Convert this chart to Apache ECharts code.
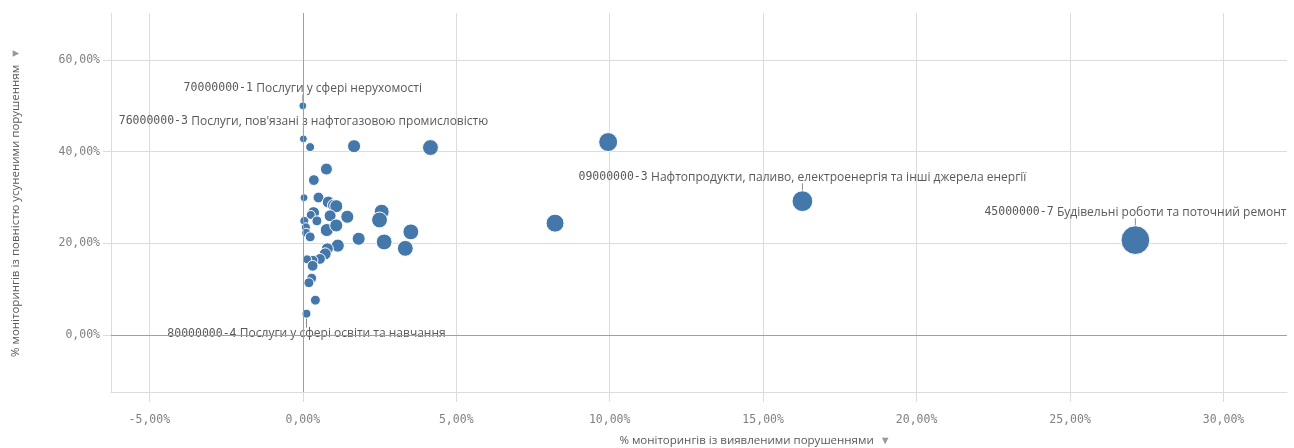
<!DOCTYPE html>
<html>
<head>
<meta charset="utf-8">
<script src="https://cdn.jsdelivr.net/npm/echarts@6/dist/echarts.min.js"></script>
<style>
html,body{margin:0;padding:0;background:#fff;}
#chart{width:1294px;height:448px;}
</style>
</head>
<body>
<div id="chart"></div>
<script>
// share of monitorings with detected violations (x), fully eliminated violations (y)
const xDetected = [0.0000, 0.0002, 0.0024, 0.0167, 0.0416, 0.0077, 0.0036, 0.0004, 0.0051, 0.0083,
  0.0100, 0.0109, 0.0035, 0.0026, 0.0046, 0.0089, 0.0145, 0.0257, 0.0250, 0.0005,
  0.0010, 0.0011, 0.0024, 0.0078, 0.0109, 0.0182, 0.0265, 0.0352, 0.0334, 0.0114,
  0.0080, 0.0073, 0.0056, 0.0033, 0.0014, 0.0032, 0.0029, 0.0020, 0.0041, 0.0012,
  0.0995, 0.0822, 0.1628, 0.2713];
const yEliminated = [0.500, 0.428, 0.410, 0.412, 0.409, 0.362, 0.338, 0.2996, 0.300, 0.290,
  0.283, 0.281, 0.267, 0.262, 0.249, 0.260, 0.258, 0.269, 0.251, 0.249,
  0.235, 0.223, 0.214, 0.229, 0.239, 0.210, 0.203, 0.225, 0.189, 0.195,
  0.188, 0.177, 0.166, 0.163, 0.165, 0.151, 0.124, 0.114, 0.076, 0.0465,
  0.421, 0.244, 0.292, 0.207];
// bubble size measure (number of monitorings, estimated)
const monitorings = [7, 7, 9, 19, 28, 16, 13, 7, 13, 16,
  16, 19, 16, 9, 11, 16, 19, 25, 28, 9,
  9, 9, 11, 19, 19, 19, 28, 28, 28, 19,
  16, 16, 13, 11, 9, 13, 11, 11, 11, 9,
  40, 36, 48, 92];
// labelled categories (index -> name)
const labelIndex = [0, 1, 39, 42, 43];
const labelCodes = ['70000000-1', '76000000-3', '80000000-4', '09000000-3', '45000000-7'];
const labelNames = ['Послуги у сфері нерухомості', "Послуги, пов'язані з нафтогазовою промисловістю",
  'Послуги у сфері освіти та навчання', 'Нафтопродукти, паливо, електроенергія та інші джерела енергії',
  'Будівельні роботи та поточний ремонт'];
const labelBelow = ['80000000-4'];
const xTicks = [-0.05, 0, 0.05, 0.10, 0.15, 0.20, 0.25, 0.30];
const yTicks = [0, 0.20, 0.40, 0.60];
const xTitle = '% моніторингів із виявленими порушеннями';
const yTitle = '% моніторингів із повністю усуненими порушенням';

const fmt = v => (v * 100).toFixed(2).replace('.', ',') + '%';
const MONO = '"DejaVu Sans Mono", monospace';
const SANS = '"Open Sans", sans-serif';

const isBelow = i => {
  const k = labelIndex.indexOf(i);
  return k >= 0 && labelBelow.indexOf(labelCodes[k]) >= 0;
};

const data = xDetected.map((x, i) => {
  const item = { value: [x, yEliminated[i], monitorings[i]] };
  const k = labelIndex.indexOf(i);
  if (k >= 0) {
    item.label = {
      show: true,
      position: isBelow(i) ? 'bottom' : 'top',
      distance: 3,
      formatter: '{c|' + labelCodes[k] + '} {t|' + labelNames[k] + '}'
    };
  }
  return item;
});

const chart = echarts.init(document.getElementById('chart'), null, { renderer: 'canvas' });
const gridColor = '#dcdcdc';
chart.setOption({
  animation: false,
  backgroundColor: '#fff',
  grid: { left: 111, right: 7, top: 13, bottom: 56, containLabel: false, outerBoundsMode: 'none' },
  xAxis: {
    type: 'value',
    min: -0.0625, max: 0.3207,
    name: xTitle + '  {a|▼}',
    nameLocation: 'middle',
    nameGap: 43,
    nameTextStyle: {
      color: '#595959', fontFamily: SANS, fontSize: 11.5, padding: [0, 0, 0, 112],
      rich: { a: { color: '#999', fontSize: 11 } }
    },
    axisLine: { show: true, onZero: false, lineStyle: { color: gridColor, width: 1 } },
    axisTick: { show: true, length: 10, customValues: xTicks, lineStyle: { color: gridColor } },
    axisLabel: { customValues: xTicks, formatter: fmt, color: '#808080', fontFamily: MONO, fontSize: 11.5, margin: 22 },
    splitLine: { show: true, lineStyle: { color: gridColor, width: 1 } }
  },
  yAxis: {
    type: 'value',
    min: -0.1244, max: 0.7026,
    name: yTitle + '  {a|▼}',
    nameLocation: 'middle',
    nameGap: 89,
    nameTextStyle: {
      color: '#595959', fontFamily: SANS, fontSize: 11.5,
      rich: { a: { color: '#999', fontSize: 11 } }
    },
    axisLine: { show: true, onZero: false, lineStyle: { color: gridColor, width: 1 } },
    axisTick: { show: true, length: 8, customValues: yTicks, lineStyle: { color: gridColor } },
    axisLabel: { customValues: yTicks, formatter: fmt, color: '#808080', fontFamily: MONO, fontSize: 11.5, margin: 11 },
    splitLine: { show: true, lineStyle: { color: gridColor, width: 1 } }
  },
  series: [
    {
      type: 'scatter',
      z: 1,
      data: [],
      silent: true,
      markLine: {
        silent: true,
        symbol: 'none',
        label: { show: false },
        lineStyle: { color: '#a0a0a0', type: 'solid', width: 1 },
        data: [{ xAxis: 0 }, { yAxis: 0 }]
      }
    },
    {
      type: 'scatter',
      z: 3,
      data: data,
      symbolSize: v => 3.0 * Math.sqrt(v[2]),
      itemStyle: { color: '#4477aa', borderColor: '#ffffff', borderWidth: 1, opacity: 1 },
      label: {
        show: false,
        color: '#595959',
        rich: {
          c: { fontFamily: MONO, fontSize: 11.5, color: '#595959' },
          t: { fontFamily: SANS, fontSize: 12, color: '#595959' }
        }
      },
      labelLayout: params => ({ dy: isBelow(params.dataIndex) ? 6 : -4 }),
      labelLine: { show: true, length2: 0, lineStyle: { color: '#8c8c8c', width: 1 } }
    }
  ]
});
</script>
</body>
</html>
